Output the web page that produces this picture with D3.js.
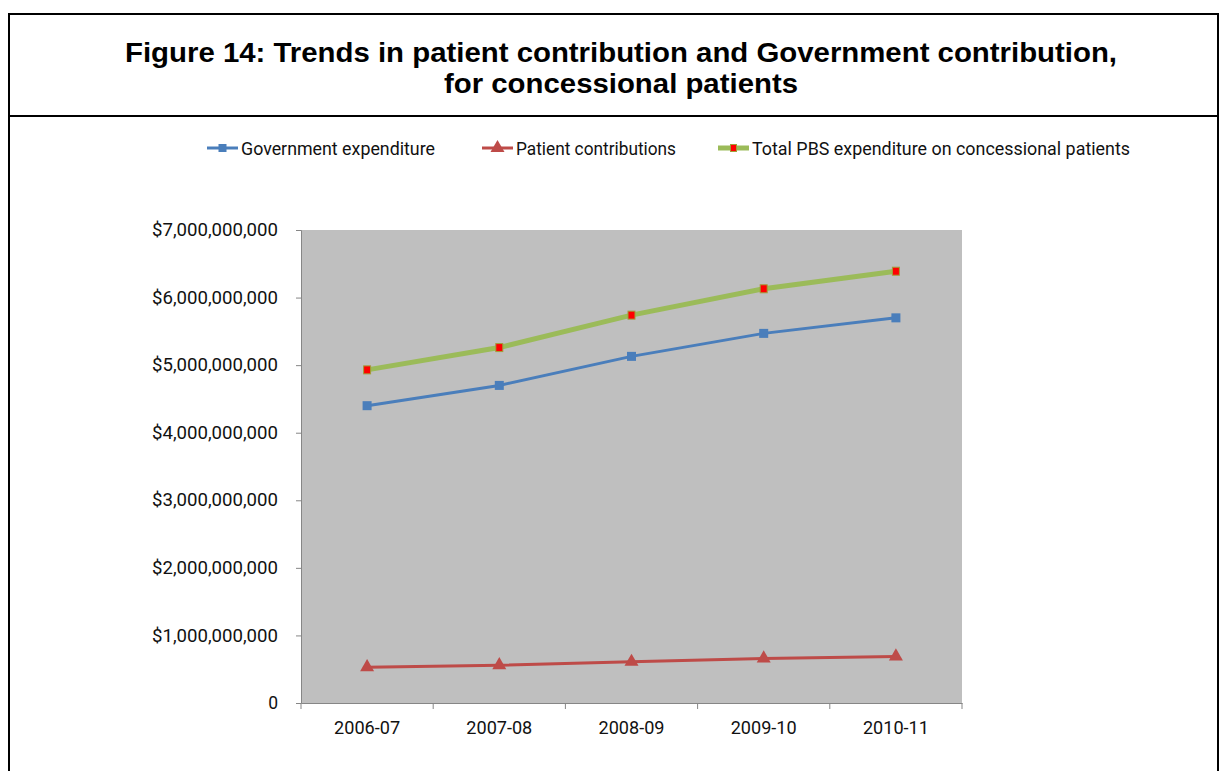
<!DOCTYPE html>
<html><head><meta charset="utf-8">
<script src="https://cdn.jsdelivr.net/npm/d3@7"></script>
<style>body{margin:0;background:#fff;}svg{display:block;}</style>
</head><body>
<script>
const categories = ["2006-07","2007-08","2008-09","2009-10","2010-11"];
const government = [4.40e9, 4.70e9, 5.13e9, 5.47e9, 5.70e9];
const patient = [0.53e9, 0.56e9, 0.61e9, 0.66e9, 0.69e9];
const total = [4.93e9, 5.26e9, 5.74e9, 6.13e9, 6.39e9];
const yTicks = [0,1e9,2e9,3e9,4e9,5e9,6e9,7e9];
const seriesNames = ["Government expenditure","Patient contributions","Total PBS expenditure on concessional patients"];

const W=1222,H=771;
const svg=d3.select("body").append("svg").attr("width",W).attr("height",H);
// frame
svg.append("rect").attr("x",9).attr("y",14).attr("width",1209).attr("height",770).attr("fill","none").attr("stroke","#000").attr("stroke-width",2);
svg.append("line").attr("x1",9).attr("x2",1218).attr("y1",116).attr("y2",116).attr("stroke","#000").attr("stroke-width",2);
const title=svg.append("text").attr("text-anchor","middle").attr("font-family","Liberation Sans, Arial, sans-serif").attr("font-weight","bold").attr("font-size",27).attr("fill","#000");
title.append("tspan").attr("x",621).attr("y",62).attr("textLength",992).attr("lengthAdjust","spacingAndGlyphs").text("Figure 14: Trends in patient contribution and Government contribution,");
title.append("tspan").attr("x",621).attr("y",93).attr("textLength",354).attr("lengthAdjust","spacingAndGlyphs").text("for concessional patients");

const L=301,R=962,T=230,B=703;
const x=d3.scaleBand().domain(categories).range([L,R]);
const y=d3.scaleLinear().domain([0,7e9]).range([B,T]);
svg.append("rect").attr("x",L).attr("y",T).attr("width",R-L).attr("height",B-T).attr("fill","#BFBFBF");

const fmt=v=> v===0?"0":"$"+d3.format(",")(v);
const ya=svg.append("g").attr("transform",`translate(${L},0)`).call(d3.axisLeft(y).tickValues(yTicks).tickFormat(fmt).tickSize(5).tickPadding(18));
ya.selectAll("path,line").attr("stroke","#868686");
ya.selectAll("text").attr("font-family","Roboto, sans-serif").attr("font-size",17.5).attr("fill","#111")
  .attr("textLength",d=>d===0?null:126).attr("lengthAdjust","spacingAndGlyphs");
const xa=svg.append("g").attr("transform",`translate(0,${B})`).call(d3.axisBottom(x).tickSize(0).tickPadding(19));
xa.selectAll("path").attr("stroke","#868686");
xa.selectAll("text").attr("font-family","Roboto, sans-serif").attr("font-size",17.5).attr("fill","#111")
  .attr("textLength",66).attr("lengthAdjust","spacingAndGlyphs");
// boundary ticks
const bounds=categories.map(c=>x(c)).concat([R]);
svg.append("g").selectAll("line").data(bounds).join("line").attr("x1",d=>d).attr("x2",d=>d).attr("y1",B).attr("y2",B+6).attr("stroke","#868686");

const cx=c=>x(c)+x.bandwidth()/2;
const line=d3.line().x((d,i)=>cx(categories[i])).y(d=>y(d));
svg.append("path").datum(government).attr("d",line).attr("fill","none").attr("stroke","#4A7EBB").attr("stroke-width",3);
svg.append("path").datum(patient).attr("d",line).attr("fill","none").attr("stroke","#BE4B48").attr("stroke-width",3);
svg.append("path").datum(total).attr("d",line).attr("fill","none").attr("stroke","#9BBB59").attr("stroke-width",5);

svg.append("g").selectAll("rect").data(government).join("rect").attr("x",(d,i)=>cx(categories[i])-4.5).attr("y",d=>y(d)-4.5).attr("width",9).attr("height",9).attr("fill","#4A7EBB");
const tri=d3.symbol().type(d3.symbolTriangle).size(85);
svg.append("g").selectAll("path").data(patient).join("path").attr("d",tri).attr("transform",(d,i)=>`translate(${cx(categories[i])},${y(d)})`).attr("fill","#BE4B48");
svg.append("g").selectAll("rect").data(total).join("rect").attr("x",(d,i)=>cx(categories[i])-3.5).attr("y",d=>y(d)-4).attr("width",7).attr("height",8).attr("fill","#FF0000").attr("stroke","#A29E3A").attr("stroke-width",1);

// legend
const lg=svg.append("g").attr("font-family","Roboto, sans-serif").attr("font-size",19).attr("fill","#111");
const lx=[207,482,718];
const tw=[194,160,378];
const colors=["#4A7EBB","#BE4B48","#9BBB59"];
seriesNames.forEach((n,i)=>{
  const g=lg.append("g").attr("transform",`translate(${lx[i]},148)`);
  g.append("line").attr("x1",0).attr("x2",31).attr("stroke",colors[i]).attr("stroke-width",i==2?5:3);
  if(i==0) g.append("rect").attr("x",11.5).attr("y",-4).attr("width",8).attr("height",8).attr("fill",colors[0]);
  if(i==1) g.append("path").attr("d",tri).attr("transform","translate(15.5,0)").attr("fill",colors[1]);
  if(i==2) g.append("rect").attr("x",12.5).attr("y",-3.5).attr("width",6).attr("height",7).attr("fill","#FF0000").attr("stroke","#A29E3A").attr("stroke-width",1);
  g.append("text").attr("x",34).attr("y",7).attr("textLength",tw[i]).attr("lengthAdjust","spacingAndGlyphs").text(n);
});
</script>
</body></html>
